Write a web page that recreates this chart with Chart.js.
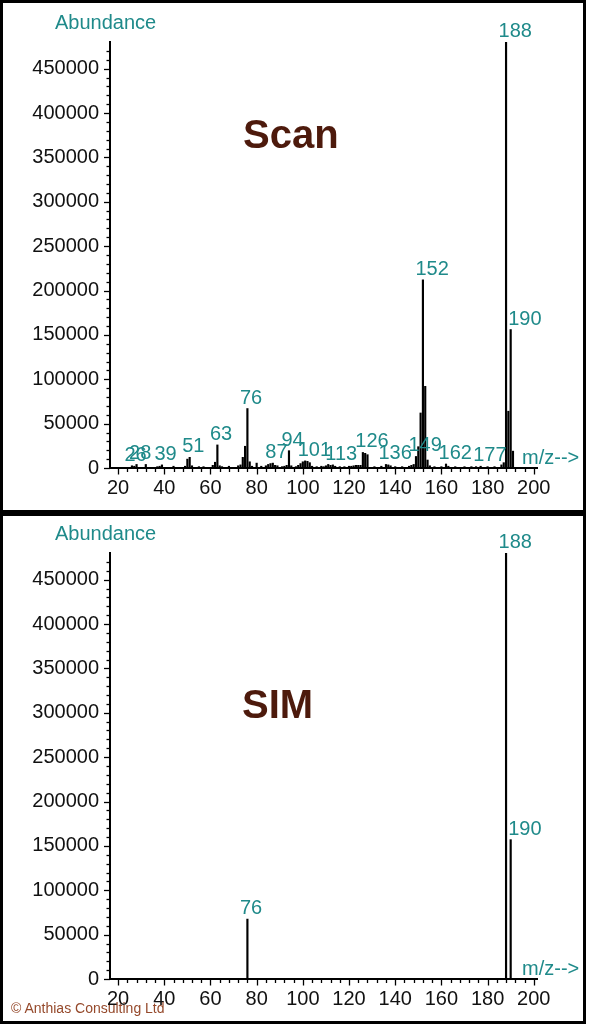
<!DOCTYPE html>
<html><head><meta charset="utf-8">
<script src="https://cdn.jsdelivr.net/npm/chart.js@4.4.1/dist/chart.umd.min.js"></script>
<style>
html,body{margin:0;padding:0;background:#fff;width:591px;height:1024px;overflow:hidden;font-family:"Liberation Sans",Arial,sans-serif;}
.panel{position:absolute;left:0;width:586px;border:3px solid #000;box-sizing:border-box;}
#p1{top:0;height:513px;}
#p2{top:513px;height:511px;}
canvas{position:absolute;left:0;}
#c1{top:0;}
#c2{top:513px;}
.title{position:absolute;font-weight:bold;font-size:40px;line-height:40px;color:#4d1a0c;white-space:nowrap;}
#t1{left:243px;top:114px;}
#t2{left:242px;top:684px;}
#copy{position:absolute;left:11px;top:999px;font-size:14px;line-height:18px;color:#95492b;white-space:nowrap;}
</style>
</head><body>
<div class="panel" id="p1"></div>
<div class="panel" id="p2"></div>
<canvas id="c1" width="586" height="513"></canvas>
<canvas id="c2" width="586" height="511"></canvas>
<div class="title" id="t1">Scan</div>
<div class="title" id="t2">SIM</div>
<div id="copy">© Anthias Consulting Ltd</div>
<script>
// ---- Data ----
const scanMz = [26,27,28,32,37,38,39,44,49,50,51,52,55,57,61,62,63,64,65,68,72,73,74,75,76,77,78,80,82,84,85,86,87,88,89,91,92,93,94,95,97,98,99,100,101,102,103,104,106,108,109,110,111,112,113,114,116,118,120,121,122,123,124,125,126,127,128,131,134,136,137,138,140,143,146,147,148,149,150,151,152,153,154,155,157,160,162,163,166,170,173,175,177,180,183,186,187,188,189,190,191];
const scanAbundance = [2500,2000,4000,4000,1500,2000,3500,2000,2000,10000,12000,2500,1500,1500,3000,6500,26000,2500,1500,2000,2500,3500,12000,24500,67000,7000,2000,5500,2000,2500,4000,5000,5500,3000,2500,1500,2000,3000,19500,2500,1500,3000,5000,7000,8000,7500,6000,2000,1500,2000,1500,2500,4000,3000,3500,2000,1500,1500,2000,2000,2500,3000,3000,3000,17500,16500,15000,1500,2000,4000,3500,2500,1500,1500,2000,3000,4000,13000,24000,62000,212000,92000,9000,2500,1500,1500,4500,2000,1500,1500,1500,1500,2000,1500,1500,3500,6000,480000,64000,156000,19000];
const scanLabels = [26,28,39,51,63,76,87,94,101,113,126,136,149,152,162,177,188,190];

const simMz = [76,188,190];
const simAbundance = [67500,480000,157000];
const simLabels = [76,188,190];

const xTickLabels = [20,40,60,80,100,120,140,160,180,200];
const yTickLabels = [0,50000,100000,150000,200000,250000,300000,350000,400000,450000];

// ---- Styling ----
const TEAL = '#1f8a8a';
const FONT = '"Liberation Sans", Arial, sans-serif';
const LABEL_NUDGE = {190: 5};

const peakPlugin = {
  id: 'peaks',
  afterDatasetsDraw(chart, args, opts) {
    const {ctx, chartArea, scales:{x, y}} = chart;
    ctx.save();
    // custom tick marks
    ctx.strokeStyle = '#000';
    ctx.lineWidth = 1.3;
    y.ticks.forEach(t => {
      if (t.value > 475000) return;
      const py = Math.round(y.getPixelForValue(t.value)) + 0.5;
      const len = (t.value % 50000 === 0) ? 5 : 2.5;
      ctx.beginPath(); ctx.moveTo(chartArea.left - len - 1, py); ctx.lineTo(chartArea.left, py); ctx.stroke();
    });
    x.ticks.forEach(t => {
      const px = Math.round(x.getPixelForValue(t.value)) + 0.5;
      const len = (t.value % 20 === 0) ? 5.5 : 3;
      ctx.beginPath(); ctx.moveTo(px, chartArea.bottom); ctx.lineTo(px, chartArea.bottom + len + 1); ctx.stroke();
    });
    // axis captions
    ctx.fillStyle = TEAL;
    ctx.font = '20px ' + FONT;
    ctx.textBaseline = 'middle';
    ctx.textAlign = 'left';
    ctx.fillText('Abundance', 55, chartArea.top - 19);
    ctx.fillText('m/z-->', 522, chartArea.bottom - 9.5);
    // peak labels
    ctx.textBaseline = 'alphabetic';
    const mz = opts.mz, ab = opts.ab;
    opts.labels.forEach(m => {
      const i = mz.indexOf(m);
      if (i < 0) return;
      const v = Math.min(ab[i], y.max);
      const px = x.getPixelForValue(m) - 7.5 + (LABEL_NUDGE[m] || 0);
      const py = y.getPixelForValue(v) - 5;
      ctx.fillText(String(m), px, py);
    });
    ctx.restore();
  }
};

function makeChart(id, mz, ab, labels, padTop, padBottom) {
  return new Chart(document.getElementById(id), {
    type: 'bar',
    data: {
      datasets: [{
        data: mz.map((m, i) => ({x: m, y: ab[i]})),
        backgroundColor: '#000',
        borderWidth: 0,
        barThickness: 1.5
      }]
    },
    options: {
      responsive: false,
      animation: false,
      events: [],
      layout: {padding: {left: 0, right: 49, top: padTop, bottom: padBottom}},
      plugins: {
        legend: {display: false},
        tooltip: {enabled: false},
        peaks: {mz: mz, ab: ab, labels: labels}
      },
      scales: {
        x: {
          type: 'linear',
          min: 16.5, max: 201.4,
          offset: false,
          grid: {display: false},
          border: {display: true, color: '#000', width: 2},
          afterFit: s => { s.height = 40; },
          ticks: {
            stepSize: 4,
            includeBounds: false,
            autoSkip: false,
            maxRotation: 0,
            padding: 0,
            color: '#111',
            font: {size: 20, family: FONT},
            callback: v => xTickLabels.includes(v) ? String(v) : ''
          }
        },
        y: {
          min: 0, max: 480000,
          grid: {display: false},
          border: {display: true, color: '#000', width: 2},
          afterFit: s => { s.width = 110; },
          ticks: {
            stepSize: 10000,
            includeBounds: false,
            autoSkip: false,
            padding: 3,
            color: '#111',
            font: {size: 20, family: FONT},
            callback: v => yTickLabels.includes(v) ? String(v) : ''
          }
        }
      }
    },
    plugins: [peakPlugin]
  });
}

makeChart('c1', scanMz, scanAbundance, scanLabels, 42, 5);
makeChart('c2', simMz, simAbundance, simLabels, 40, 5);
</script>
</body></html>
